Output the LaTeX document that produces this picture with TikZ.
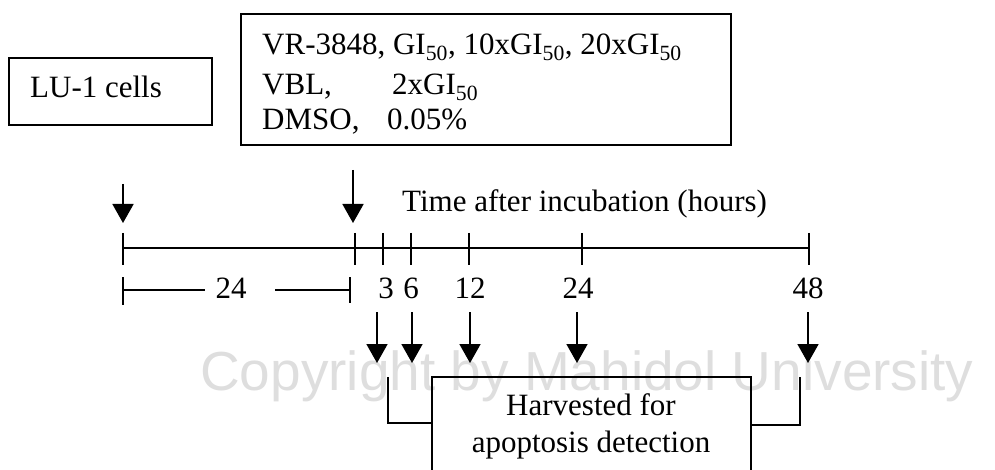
\documentclass[tikz,border=0pt]{standalone}
\usepackage{fontspec}
\setmainfont{Liberation Serif}
\newfontfamily\wmfont{Liberation Sans}
\usetikzlibrary{arrows.meta}
\begin{document}
\begin{tikzpicture}[x=1pt,y=-1pt,
  ln/.style={line width=1.8pt},
  arr/.style={line width=1.8pt,-{Triangle[width=21pt,length=19pt]}},
  txt/.style={font=\fontsize{31}{37}\selectfont, inner sep=0pt},
  box/.style={draw,line width=1.8pt,rectangle,inner sep=0pt}]
\useasboundingbox (0,0) rectangle (995,470);
% watermark
\node[font=\wmfont\fontsize{55}{60}\selectfont, text=black!13, anchor=base west, inner sep=0pt] (wm) at (200,390) {Copyright by Mahidol University};
% boxes
\node[box, minimum width=203pt, minimum height=67pt] (lu) at (110.5,91.5) {};
\node[txt, anchor=base west] (lut) at (30,98) {LU-1 cells};
\node[box, minimum width=490pt, minimum height=131pt] (drug) at (486,79.5) {};
\node[txt, anchor=base west] (d1) at (262,55) {VR-3848, GI\textsubscript{50}, 10xGI\textsubscript{50}, 20xGI\textsubscript{50}};
\node[txt, anchor=base west] (d2a) at (262,95) {VBL,};
\node[txt, anchor=base west] (d2b) at (392,95) {2xGI\textsubscript{50}};
\node[txt, anchor=base west] (d3a) at (262,130) {DMSO,};
\node[txt, anchor=base west] (d3b) at (387,130) {0.05\%};
% top arrows
\coordinate (a1s) at (123,184); \coordinate (a1e) at (123,223);
\coordinate (a2s) at (353,170); \coordinate (a2e) at (353,223);
\draw[arr] (a1s) -- (a1e);
\draw[arr] (a2s) -- (a2e);
\node[txt, anchor=base west] (tlab) at (402,212) {Time after incubation (hours)};
% timeline
\coordinate (t0) at (123,248); \coordinate (t48) at (809,248);
\draw[ln] (t0) -- (t48);
\foreach \x/\n in {123/m24,355/h0,383/h3,411/h6,469/h12,582/h24,809/h48}{
  \coordinate (tk\n) at (\x,248);
  \draw[ln] (\x,233) -- (\x,265);
}
% dimension row
\coordinate (dl) at (123,290); \coordinate (dl2) at (205,290);
\coordinate (dr2) at (275,290); \coordinate (dr) at (350,290);
\draw[ln] (123,277) -- (123,305);
\draw[ln] (350,277) -- (350,303);
\draw[ln] (dl) -- (dl2);
\draw[ln] (dr2) -- (dr);
\node[txt, anchor=base] (d24) at (231,298) {24};
% hour labels
\node[txt, anchor=base] (l3) at (386,298) {3};
\node[txt, anchor=base] (l6) at (411,298) {6};
\node[txt, anchor=base] (l12) at (470,298) {12};
\node[txt, anchor=base] (l24) at (578,298) {24};
\node[txt, anchor=base] (l48) at (808,298) {48};
% lower arrows
\foreach \x/\n in {377/a,412/b,470/c,577/d,808/e}{
  \coordinate (s\n) at (\x,312); \coordinate (e\n) at (\x,363);
  \draw[arr] (s\n) -- (e\n);
}
% harvested box
\node[box, minimum width=319pt, minimum height=130pt] (hb) at (591.5,442) {};
\node[txt, anchor=base] (h1) at (591,415) {Harvested for};
\node[txt, anchor=base] (h2) at (591,452) {apoptosis detection};
\coordinate (lb1) at (388,377); \coordinate (lb2) at (388,423);
\coordinate (rb1) at (800,377); \coordinate (rb2) at (800,425);
\draw[ln] (lb1) -- (lb2) -- (hb.west |- lb2);
\draw[ln] (rb1) -- (rb2) -- (hb.east |- rb2);
\end{tikzpicture}
\end{document}
